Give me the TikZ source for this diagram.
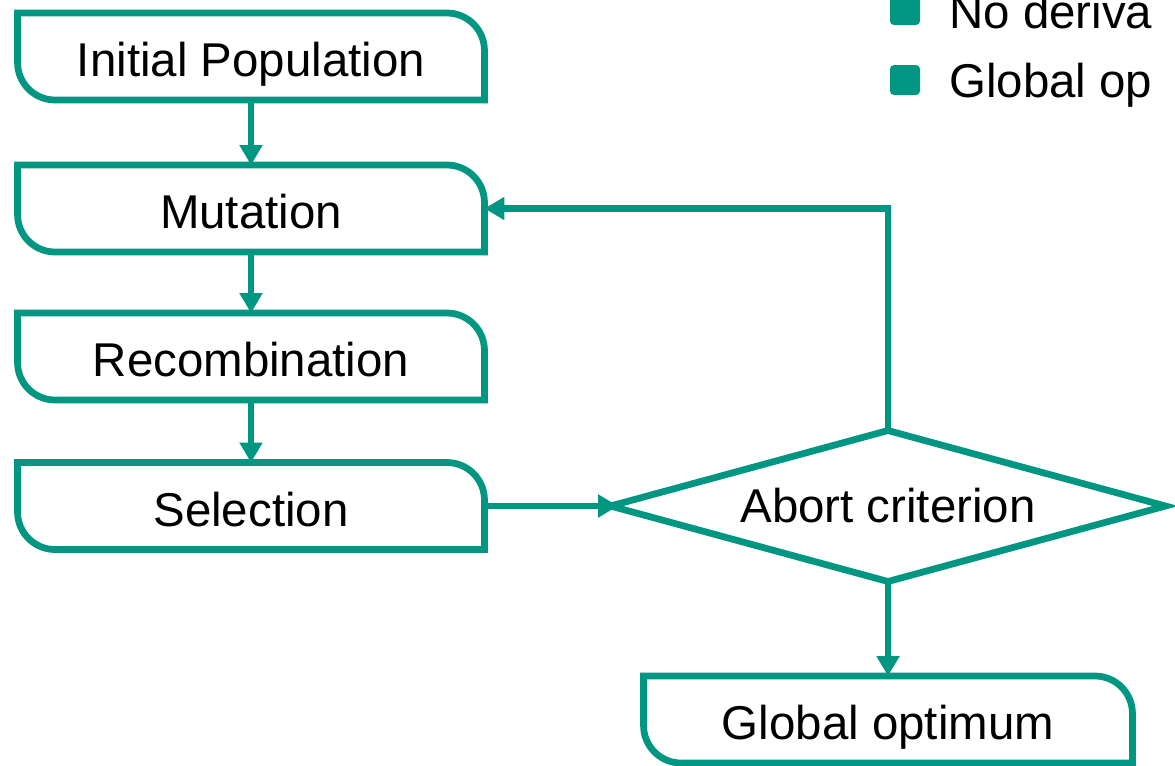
\documentclass[tikz,border=0pt]{standalone}
\usepackage{fontspec}
\setmainfont{Liberation Sans}
\usetikzlibrary{arrows.meta,shapes.geometric}
\definecolor{kitgreen}{RGB}{0,150,130}
\newcommand{\procframe}[1]{\draw[line width=0.135cm,kitgreen,line cap=rect,rounded corners=0.75cm] (#1.north west) -- (#1.north east) -- (#1.south east) (#1.south east) -- (#1.south west) -- (#1.north west);}
\begin{document}
\begin{tikzpicture}[>={Triangle[length=0.4cm,width=0.44cm]},x=0.02cm,y=-0.02cm,
	every node/.style={font=\fontsize{27}{32}\selectfont},
	proc/.style={minimum width=9.34cm,minimum height=1.74cm,inner sep=0,outer sep=0,text height=0.8cm,text depth=0cm},
	flow/.style={->,line width=0.135cm,kitgreen}]
		\clip (0,0) rectangle (1175,765);
		\node[proc] (init) at (251,56.5) {Initial Population};
		\node[proc] (mut) at (251,208.5) {Mutation};
		\node[proc] (rec) at (251,356.5) {Recombination};
		\node[proc] (sel) at (251,506) {Selection};
		\node[draw=kitgreen,line width=0.135cm,diamond,aspect=3.65,minimum width=11.1cm,minimum height=3.02cm,inner sep=0,outer sep=0] (crit) at (888,506) {Abort criterion};
		\node[proc,minimum width=9.78cm] (glob) at (888,719.5) {Global optimum};
		\procframe{init} \procframe{mut} \procframe{rec} \procframe{sel} \procframe{glob}
		\draw[flow] (init.south) -- (mut.north);
		\draw[flow] (mut.south) -- (rec.north);
		\draw[flow] (rec.south) -- (sel.north);
		\draw[flow,shorten >=-0.15cm] (sel.east) -- (crit.west);
		\draw[flow] (crit.north) |- (mut.east);
		\draw[flow] (crit.south) -- (glob.north);
		\node[fill=kitgreen,rounded corners=0.08cm,minimum size=0.6cm,inner sep=0] (b1) at (905,10) {};
		\node[fill=kitgreen,rounded corners=0.08cm,minimum size=0.6cm,inner sep=0] (b2) at (905,80) {};
		\node[anchor=base west,inner sep=0] (t1) at (949,28) {No deriva};
		\node[anchor=base west,inner sep=0] (t2) at (949,97) {Global op};
\end{tikzpicture}
\end{document}
